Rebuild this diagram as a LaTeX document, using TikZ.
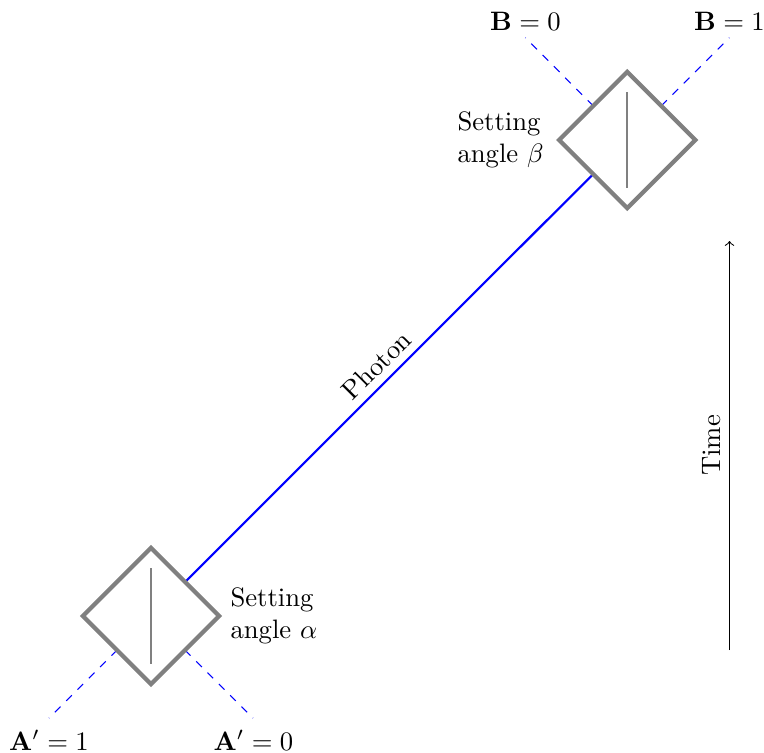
\documentclass[tikz,border=0pt]{standalone}
\usetikzlibrary{shapes.geometric,backgrounds}
\tikzset{
  pbs/.style={draw=gray,fill=white,ultra thick,diamond,minimum width=138*0.375pt,minimum height=138*0.375pt,inner sep=0pt,aspect=1},
  plate/.style={draw=gray,thick},
  beam/.style={draw=blue,thick},
  outbeam/.style={draw=blue,thin,dashed},
  lbl/.style={inner sep=0pt,outer sep=0pt},
  setting/.style={inner sep=0pt,align=left,anchor=west,font=\normalsize}
}
\begin{document}
\begin{tikzpicture}[x=0.375pt,y=-0.375pt]
\useasboundingbox (0,0) rectangle (764,753);
\node[pbs] (A) at (151,616) {};
\node[pbs] (B) at (627.3,140) {};
\coordinate (At) at (151,568);
\coordinate (Ab) at (151,663.5);
\coordinate (Bt) at (627.3,92);
\coordinate (Bb) at (627.3,187.5);
\draw[plate] (At) -- (Ab);
\draw[plate] (Bt) -- (Bb);
\coordinate (Ale) at (49,718);
\coordinate (Are) at (253,718);
\coordinate (Ble) at (525.3,37.7);
\coordinate (Bre) at (729.3,37.7);
\begin{pgfonlayer}{background}
\draw[beam] (A.center) -- node[pos=.5,sloped,above=3.2pt,lbl] (ph) {Photon} (B.center);
\draw[outbeam] (A.center) -- (Ale);
\draw[outbeam] (A.center) -- (Are);
\draw[outbeam] (B.center) -- (Ble);
\draw[outbeam] (B.center) -- (Bre);
\end{pgfonlayer}
\node[lbl,anchor=center] (a1) at (49,740) {$\mathbf{A'}=1$};
\node[lbl,anchor=center] (a0) at (253.5,740) {$\mathbf{A'}=0$};
\node[lbl,anchor=center] (b0) at (525.5,21) {$\mathbf{B}=0$};
\node[lbl,anchor=center] (b1) at (729.5,21) {$\mathbf{B}=1$};
\node[setting] (sa) at (230,616) {Setting\\angle $\alpha$};
\node[setting] (sb) at (457,140) {Setting\\angle $\beta$};
\coordinate (T0) at (729.5,650);
\coordinate (T1) at (729.5,241);
\draw[->] (T0) -- node[midway,sloped,above=3.4pt,lbl] (tm) {Time} (T1);
\end{tikzpicture}
\end{document}
